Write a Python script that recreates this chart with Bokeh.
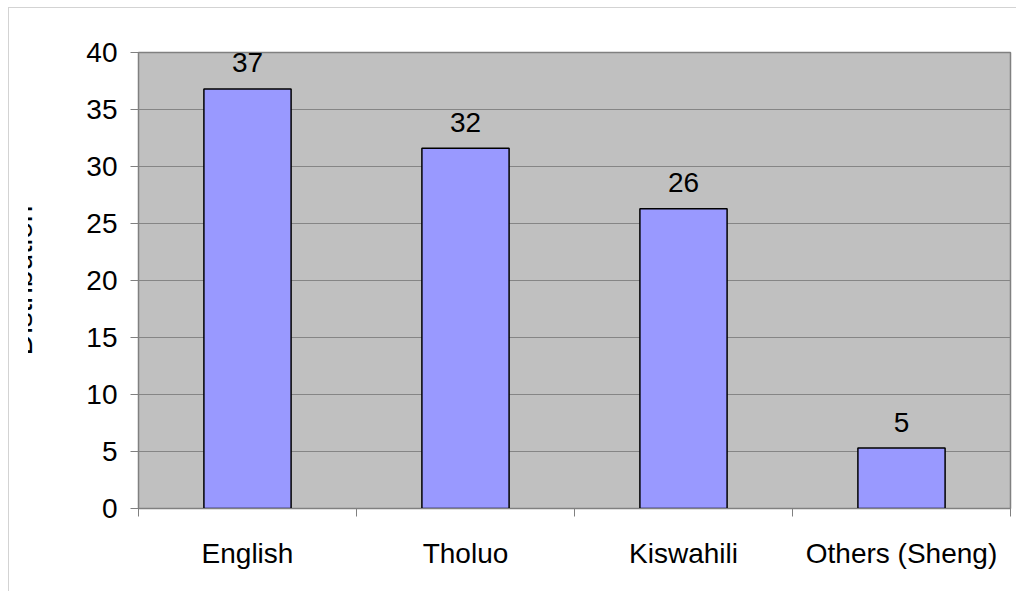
import numpy as np
from bokeh.plotting import figure
from bokeh.models import Range1d, FixedTicker, LinearAxis, Grid, InlineStyleSheet
from bokeh.core.properties import value
from bokeh.embed import file_html
from bokeh.resources import INLINE

categories = ["English", "Tholuo", "Kiswahili", "Others (Sheng)"]
shares = [36.8, 31.6, 26.3, 5.3]
value_labels = ["37", "32", "26", "5"]
y_ticks = [0, 5, 10, 15, 20, 25, 30, 35, 40]
y_label = "Distribution"

FONT = "Liberation Sans"
FS = "28px"

centers = [i + 0.5 for i in range(len(categories))]
bounds = list(range(len(categories) + 1))

p = figure(width=1016, height=591,
           x_range=Range1d(0, len(categories)), y_range=Range1d(0, 40),
           output_backend="svg", toolbar_location=None,
           x_axis_location=None, y_axis_location=None,
           min_border_left=138, min_border_right=6,
           min_border_top=52, min_border_bottom=83)

for g in p.grid:
    g.visible = False

p.background_fill_color = "#c0c0c0"
p.border_fill_color = "white"
p.outline_line_color = "#808080"
p.outline_line_width = 1.5

yaxis = LinearAxis(ticker=FixedTicker(ticks=y_ticks),
                   major_tick_out=8, major_tick_in=0,
                   minor_tick_out=0, minor_tick_in=0,
                   axis_line_color="#808080", major_tick_line_color="#808080",
                   major_label_text_font=FONT, major_label_text_font_size=FS,
                   major_label_text_color="black", major_label_standoff=13,
                   axis_label=y_label, axis_label_text_font=FONT,
                   axis_label_text_font_size="30px", axis_label_text_font_style="normal",
                   axis_label_text_color="black", axis_label_standoff=45)
p.add_layout(yaxis, "left")

xaxis = LinearAxis(ticker=FixedTicker(ticks=centers, minor_ticks=bounds),
                   major_tick_out=0, major_tick_in=0,
                   minor_tick_out=8, minor_tick_in=0,
                   axis_line_color="#808080", minor_tick_line_color="#808080",
                   major_label_overrides={float(c): n for c, n in zip(centers, categories)},
                   major_label_text_font=FONT, major_label_text_font_size=FS,
                   major_label_text_color="black", major_label_standoff=21)
p.add_layout(xaxis, "below")

p.add_layout(Grid(dimension=1, ticker=FixedTicker(ticks=y_ticks),
                  grid_line_color="#858585", grid_line_width=1))

p.vbar(x=centers, top=shares, width=0.4, fill_color="#9999ff",
       line_color="black", line_width=1.5)

p.text(x=centers, y=shares, text=value_labels, text_align="center",
       text_baseline="alphabetic", y_offset=-26,
       text_font=value(FONT), text_font_size=FS, text_color="black")

css = """
:host::before { content: ""; position: absolute; left: 9px; top: 8px; width: 19px;
  height: 580px; background: white; z-index: 10; pointer-events: none; }
:host::after { content: ""; position: absolute; left: 8px; top: 7px; width: 1007px;
  height: 583px; border-left: 1px solid #d3d3d3; border-top: 1px solid #d3d3d3;
  z-index: 11; pointer-events: none; }
"""
p.stylesheets = [InlineStyleSheet(css=css)]

open("out.html", "w").write(file_html(p, INLINE))
